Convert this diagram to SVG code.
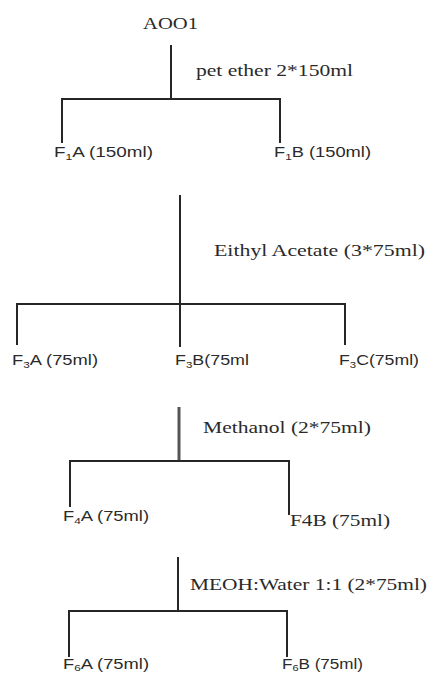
<svg xmlns="http://www.w3.org/2000/svg" width="434" height="674" viewBox="0 0 434 674">
<style>
.bg{fill:#ffffff}
.serif{font-family:"Liberation Serif","Times New Roman",serif;font-size:17px;fill:#2a2a2a}
.sans{font-family:"Liberation Sans",Arial,sans-serif;font-size:14px;fill:#2a2a2a}
.sub{font-size:9px}
.ln{stroke:#262626;stroke-width:2;fill:none}
.ln2{stroke:#555;stroke-width:3;fill:none}
</style>
<rect class="bg" x="0" y="0" width="434" height="674"/>
<g id="connectors">
  <path class="ln" d="M171 45V99M62 143V99H280V143"/>
  <path class="ln" d="M180 195V347M17 345V304H345V345"/>
  <path class="ln2" d="M179 407V461"/>
  <path class="ln" d="M70 507V461H289V515"/>
  <path class="ln" d="M178 557V611M69 657V611H287V657"/>
</g>
<g id="AOO1"><text class="serif" x="143" y="29" textLength="55" lengthAdjust="spacingAndGlyphs">AOO1</text></g>
<g id="solvent1"><text class="serif" x="196" y="76" textLength="157" lengthAdjust="spacingAndGlyphs">pet ether 2*150ml</text></g>
<g id="F1A"><text class="sans" x="54" y="157" textLength="99" lengthAdjust="spacingAndGlyphs">F<tspan class="sub" dy="3">1</tspan><tspan dy="-3">A (150ml)</tspan></text></g>
<g id="F1B"><text class="sans" x="274" y="157" textLength="97" lengthAdjust="spacingAndGlyphs">F<tspan class="sub" dy="3">1</tspan><tspan dy="-3">B (150ml)</tspan></text></g>
<g id="solvent2"><text class="serif" x="214" y="256" textLength="211" lengthAdjust="spacingAndGlyphs">Eithyl Acetate (3*75ml)</text></g>
<g id="F3A"><text class="sans" x="12" y="365" textLength="86" lengthAdjust="spacingAndGlyphs">F<tspan class="sub" dy="3">3</tspan><tspan dy="-3">A (75ml)</tspan></text></g>
<g id="F3B"><text class="sans" x="175" y="365" textLength="74" lengthAdjust="spacingAndGlyphs">F<tspan class="sub" dy="3">3</tspan><tspan dy="-3">B(75ml</tspan></text></g>
<g id="F3C"><text class="sans" x="339" y="365" textLength="80" lengthAdjust="spacingAndGlyphs">F<tspan class="sub" dy="3">3</tspan><tspan dy="-3">C(75ml)</tspan></text></g>
<g id="solvent3"><text class="serif" x="203" y="433" textLength="168" lengthAdjust="spacingAndGlyphs">Methanol (2*75ml)</text></g>
<g id="F4A"><text class="sans" x="63" y="521" textLength="86" lengthAdjust="spacingAndGlyphs">F<tspan class="sub" dy="3">4</tspan><tspan dy="-3">A (75ml)</tspan></text></g>
<g id="F4B"><text class="serif" x="290" y="526" textLength="100" lengthAdjust="spacingAndGlyphs">F4B (75ml)</text></g>
<g id="solvent4"><text class="serif" x="190" y="590" textLength="237" lengthAdjust="spacingAndGlyphs">MEOH:Water 1:1 (2*75ml)</text></g>
<g id="F6A"><text class="sans" x="63" y="669" textLength="86" lengthAdjust="spacingAndGlyphs">F<tspan class="sub" dy="2">6</tspan><tspan dy="-2">A (75ml)</tspan></text></g>
<g id="F6B"><text class="sans" x="282" y="669" textLength="81" lengthAdjust="spacingAndGlyphs">F<tspan class="sub" dy="2">6</tspan><tspan dy="-2">B (75ml)</tspan></text></g>
</svg>
